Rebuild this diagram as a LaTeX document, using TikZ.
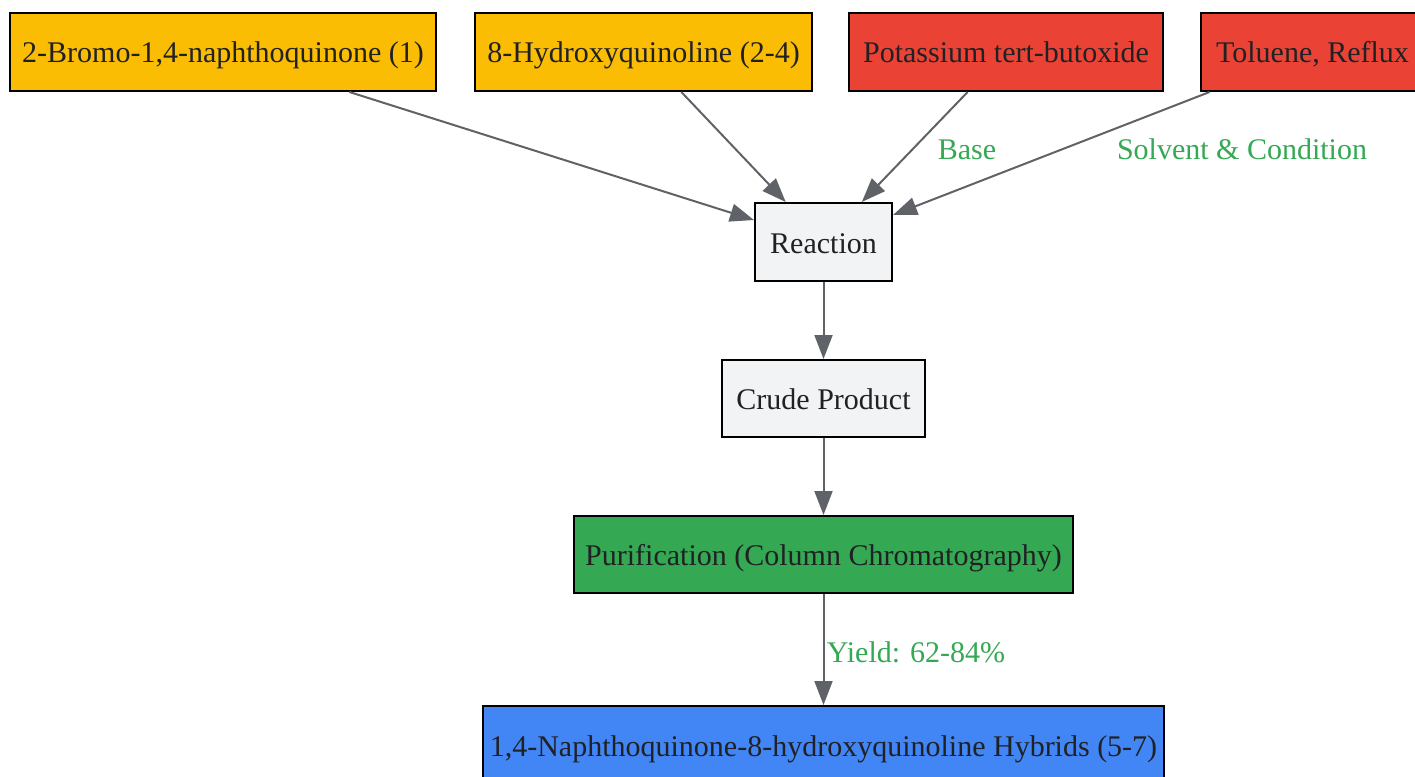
\documentclass[tikz,border=0pt]{standalone}
\usepackage{fontspec}
\setmainfont{Liberation Serif}
\usetikzlibrary{arrows.meta}
\definecolor{cyellow}{HTML}{FBBC04}
\definecolor{cred}{HTML}{EA4335}
\definecolor{cgreen}{HTML}{34A853}
\definecolor{cblue}{HTML}{4285F4}
\definecolor{cgray}{HTML}{F1F3F4}
\definecolor{cedge}{HTML}{5F6368}
\definecolor{ctext}{HTML}{202124}
\tikzset{
  box/.style={draw=black, line width=2pt, rectangle, inner sep=0pt, minimum height=78pt, text=ctext, font=\fontsize{30}{33}\selectfont, text height=29pt, text depth=7pt},
  conn/.style={draw=cedge, line width=2pt, -{Triangle[length=24pt,width=18pt]}},
  lbl/.style={text=cgreen, font=\fontsize{30}{33}\selectfont, inner sep=0pt, text height=29pt, text depth=7pt}
}
\begin{document}
\begin{tikzpicture}[x=1pt,y=-1pt]
\useasboundingbox (0,0) rectangle (1415,776);
\clip (0,0) rectangle (1415,776);
\node[box, fill=cyellow, minimum width=426pt] (a) at (223,52) {2-Bromo-1,4-naphthoquinone (1)};
\node[box, fill=cyellow, minimum width=337pt] (b) at (643.5,52) {8-Hydroxyquinoline (2-4)};
\node[box, fill=cred, minimum width=314pt] (c) at (1006,52) {Potassium tert-butoxide};
\node[box, fill=cred, minimum width=223pt] (d) at (1312.5,52) {Toluene, Reflux};
\node[box, fill=cgray, minimum width=137pt] (r) at (823.5,242) {Reaction};
\node[box, fill=cgray, minimum width=203pt, minimum height=77pt] (p) at (823.5,398.5) {Crude Product};
\node[box, fill=cgreen, minimum width=499pt, minimum height=77pt] (q) at (823.5,554.5) {Purification (Column Chromatography)};
\node[box, fill=cblue, minimum width=681pt] (f) at (823.5,745) {1,4-Naphthoquinone-8-hydroxyquinoline Hybrids (5-7)};
\draw[conn] (a) -- (r);
\draw[conn] (b) -- (r);
\draw[conn] (c) -- (r);
\draw[conn] (d) -- (r);
\draw[conn] (r) -- (p);
\draw[conn] (p) -- (q);
\draw[conn] (q) -- (f);
\node[lbl] (lb) at (967,148) {Base};
\node[lbl] (ls) at (1242,148) {Solvent \& Condition};
\node[lbl] (ly) at (916,651) {Yield: 62-84\%};
\end{tikzpicture}
\end{document}
